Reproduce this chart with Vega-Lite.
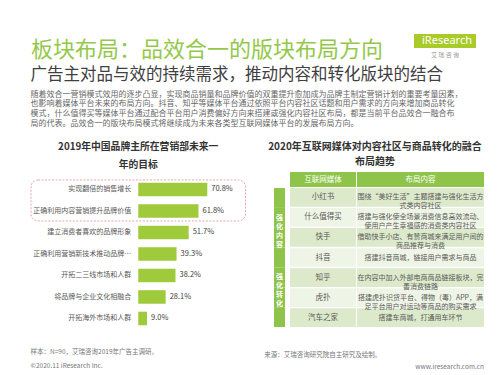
{
  "$schema": "https://vega.github.io/schema/vega-lite/v6.json",
  "background": "white",
  "padding": {"left": 30, "top": 28, "right": 10, "bottom": 0},
  "config": {"font": "Noto Sans CJK SC", "view": {"stroke": null}, "title": {"font": "Noto Sans CJK SC"}},
  "datasets": {
    "goals": [
      {"goal": "实现翻倍的销售增长", "pct": 0.708},
      {"goal": "正确利用内容营销提升品牌价值", "pct": 0.618},
      {"goal": "建立消费者喜欢的品牌形象", "pct": 0.517},
      {"goal": "正确利用营销新技术推动品牌…", "pct": 0.393},
      {"goal": "开拓二三线市场和人群", "pct": 0.382},
      {"goal": "将品牌与企业文化相融合", "pct": 0.281},
      {"goal": "开拓海外市场和人群", "pct": 0.09}
    ],
    "rows": [
      {"cat": "强化内容", "media": "小红书", "content": "围绕“美好生活”主题搭建与强化生活方\n式类内容社区"},
      {"cat": "强化内容", "media": "什么值得买", "content": "搭建与强化使全场景消费信息高效流动、\n使用户产生幸福感的消费类内容社区"},
      {"cat": "强化内容", "media": "快手", "content": "借助快手小店、有赞商城来满足用户间的\n商品推荐与消费"},
      {"cat": "强化转化", "media": "抖音", "content": "搭建抖音商城，链接用户需求与商品"},
      {"cat": "强化转化", "media": "知乎", "content": "在内容中加入外部电商商品链接板块，完\n善消费链路"},
      {"cat": "强化转化", "media": "虎扑", "content": "搭建虎扑识货平台、得物（毒）APP，满\n足平台用户对运动等商品的购买需求"},
      {"cat": "强化转化", "media": "汽车之家", "content": "搭建车商城，打通用车环节"}
    ]
  },
  "spacing": 6,
  "vconcat": [
    {
      "spacing": 3,
      "hconcat": [
        {
          "width": 380, "height": 1,
          "data": {"values": [{"t": ""}]},
          "mark": "text",
          "encoding": {"text": {"field": "t"}},
          "title": {"text": "板块布局：品效合一的版块布局方向", "orient": "bottom", "anchor": "start", "fontSize": 22, "fontWeight": "normal", "color": "#94c84a", "offset": 0}
        },
        {
          "width": 62, "height": 14,
          "data": {"values": [{"brand": "iResearch"}]},
          "title": {"text": "艾  瑞  咨  询", "orient": "bottom", "fontSize": 6, "fontWeight": "normal", "color": "#999999", "offset": 4},
          "layer": [
            {"mark": {"type": "rect", "color": "#a8cb2a"}, "encoding": {}},
            {"mark": {"type": "text", "color": "white", "fontSize": 11, "font": "Noto Sans", "dx": 2}, "encoding": {"text": {"field": "brand"}}}
          ]
        }
      ]
    },
    {
      "title": {
        "text": "广告主对品与效的持续需求，推动内容和转化版块的结合",
        "subtitle": [
          "随着效合一营销模式效用的逐步凸显，实现商品销量和品牌价值的双重提升愈加成为品牌主制定营销计划的重要考量因素，",
          "也影响着媒体平台未来的布局方向。抖音、知乎等媒体平台通过依照平台内容社区话题和用户需求的方向来增加商品转化",
          "模式，什么值得买等媒体平台通过配合平台用户消费偏好方向来搭建或强化内容社区布局，都是当前平台品效合一融合布",
          "局的代表。品效合一的版块布局模式将继续成为未来各类型互联网媒体平台的发展布局方向。"
        ],
        "anchor": "start", "fontSize": 16.5, "fontWeight": "normal", "color": "#404040",
        "subtitleFontSize": 8, "subtitleColor": "#666666", "subtitleLineHeight": 9.7, "subtitlePadding": 7, "offset": 14
      },
      "spacing": 18,
      "hconcat": [
        {
          "title": {"text": "样本：N=90，艾瑞咨询2019年广告主调研。", "subtitle": "©2020.11 iResearch Inc.", "orient": "bottom", "anchor": "start", "fontSize": 6.5, "fontWeight": "normal", "color": "#777777", "subtitleFontSize": 6.5, "subtitleColor": "#777777", "subtitlePadding": 7, "offset": 20},
          "vconcat": [
            {
              "width": 214.5, "height": 157,
              "title": {"text": ["2019年中国品牌主所在营销部未来一", "年的目标"], "fontSize": 9.8, "fontWeight": "bold", "color": "#333333", "lineHeight": 18, "offset": 2.5, "anchor": "middle"},
              "data": {"name": "goals"},
              "encoding": {
                "y": {"field": "goal", "type": "nominal", "sort": null, "axis": null, "scale": {"paddingInner": 0.37, "paddingOuter": 0.336, "align": 0.74}}
              },
              "layer": [
                {
                  "transform": [{"filter": "datum.pct > 0.7"}],
                  "mark": {"type": "rect", "fill": "transparent", "stroke": "#e99aa5", "strokeDash": [2, 1.5], "strokeWidth": 0.9, "cornerRadius": 7, "height": 41, "yOffset": 11},
                  "encoding": {}
                },
                {
                  "mark": {"type": "bar", "color": "#9fca3c"},
                  "encoding": {"x": {"field": "pct", "type": "quantitative", "axis": null, "scale": {"domain": [-1.1, 1.1], "nice": false, "zero": false}}}
                },
                {
                  "mark": {"type": "text", "align": "right", "dx": -7, "fontSize": 7, "color": "#595959"},
                  "encoding": {"x": {"datum": 0, "type": "quantitative"}, "text": {"field": "goal"}}
                },
                {
                  "mark": {"type": "text", "align": "left", "dx": 4, "fontSize": 7.5, "color": "#404040"},
                  "encoding": {"x": {"field": "pct", "type": "quantitative"}, "text": {"field": "pct", "format": ".1%"}}
                }
              ]
            }
          ]
        },
        {
          "title": {"text": "www.iresearch.com.cn", "orient": "bottom", "anchor": "end", "fontSize": 6.5, "fontWeight": "normal", "color": "#777777", "offset": 6},
          "vconcat": [
            {
              "title": {"text": "来源：艾瑞咨询研究院自主研究及绘制。", "orient": "bottom", "anchor": "start", "fontSize": 6.5, "fontWeight": "normal", "color": "#777777", "offset": 24.5, "dx": -4},
              "vconcat": [
                {
                  "title": {"text": ["2020年互联网媒体对内容社区与商品转化的融合", "布局趋势"], "fontSize": 10, "fontWeight": "bold", "color": "#333333", "lineHeight": 15, "offset": 5, "anchor": "middle", "dx": -4},
                  "spacing": 1,
                  "vconcat": [
                    {
                      "spacing": 5,
                      "hconcat": [
                        {"width": 11, "height": 15, "data": {"values": [{"h": ""}]}, "mark": "text", "encoding": {"text": {"field": "h"}}},
                        {
                          "spacing": 1,
                          "hconcat": [
                            {
                              "width": 66, "height": 15,
                              "data": {"values": [{"h": "互联网媒体"}]},
                              "layer": [
                                {"mark": {"type": "rect", "color": "#8dc449"}, "encoding": {}},
                                {"mark": {"type": "text", "color": "white", "fontSize": 7.5}, "encoding": {"text": {"field": "h"}}}
                              ]
                            },
                            {
                              "width": 127, "height": 15,
                              "data": {"values": [{"h": "布局内容"}]},
                              "layer": [
                                {"mark": {"type": "rect", "color": "#8dc449"}, "encoding": {}},
                                {"mark": {"type": "text", "color": "white", "fontSize": 7.5}, "encoding": {"text": {"field": "h"}}}
                              ]
                            }
                          ]
                        }
                      ]
                    },
                    {
                      "spacing": 5,
                      "hconcat": [
                        {
                          "width": 11, "height": 139,
                          "data": {"name": "rows"},
                          "encoding": {
                            "y": {"field": "media", "type": "nominal", "axis": null, "scale": {"domain": ["小红书", "什么值得买", "快手", "抖音", "知乎", "虎扑", "汽车之家"], "paddingInner": 0, "paddingOuter": 0}}
                          },
                          "layer": [
                            {"mark": {"type": "rect", "color": "#8dc449"}, "encoding": {}},
                            {
                              "transform": [
                                {"filter": "datum.media === '什么值得买' || datum.media === '知乎'"},
                                {"calculate": "split(datum.cat, '')", "as": "chars"}
                              ],
                              "mark": {"type": "text", "color": "white", "fontSize": 7, "fontWeight": "bold", "lineHeight": 9, "baseline": "middle"},
                              "encoding": {"text": {"field": "chars"}}
                            }
                          ]
                        },
                        {
                          "spacing": 1,
                          "hconcat": [
                            {
                              "width": 66, "height": 139,
                              "data": {"name": "rows"},
                              "encoding": {
                                "y": {"field": "media", "type": "nominal", "axis": null, "scale": {"domain": ["小红书", "什么值得买", "快手", "抖音", "知乎", "虎扑", "汽车之家"], "paddingInner": 0.07, "paddingOuter": 0}}
                              },
                              "layer": [
                                {"mark": {"type": "rect"}, "encoding": {"color": {"field": "media", "type": "nominal", "legend": null, "scale": {"domain": ["小红书", "什么值得买", "快手", "抖音", "知乎", "虎扑", "汽车之家"], "range": ["#dde9cb", "#eff5e6", "#dde9cb", "#eff5e6", "#dde9cb", "#eff5e6", "#dde9cb"]}}}},
                                {"mark": {"type": "text", "fontSize": 7.5, "color": "#595959"}, "encoding": {"text": {"field": "media"}}}
                              ]
                            },
                            {
                              "width": 127, "height": 139,
                              "data": {"name": "rows"},
                              "encoding": {
                                "y": {"field": "media", "type": "nominal", "axis": null, "scale": {"domain": ["小红书", "什么值得买", "快手", "抖音", "知乎", "虎扑", "汽车之家"], "paddingInner": 0.07, "paddingOuter": 0}}
                              },
                              "layer": [
                                {"mark": {"type": "rect"}, "encoding": {"color": {"field": "media", "type": "nominal", "legend": null, "scale": {"domain": ["小红书", "什么值得买", "快手", "抖音", "知乎", "虎扑", "汽车之家"], "range": ["#dde9cb", "#eff5e6", "#dde9cb", "#eff5e6", "#dde9cb", "#eff5e6", "#dde9cb"]}}}},
                                {"mark": {"type": "text", "fontSize": 7, "color": "#595959", "lineBreak": "\n", "lineHeight": 9}, "encoding": {"text": {"field": "content"}}}
                              ]
                            }
                          ]
                        }
                      ]
                    }
                  ]
                }
              ]
            }
          ]
        }
      ]
    }
  ]
}
